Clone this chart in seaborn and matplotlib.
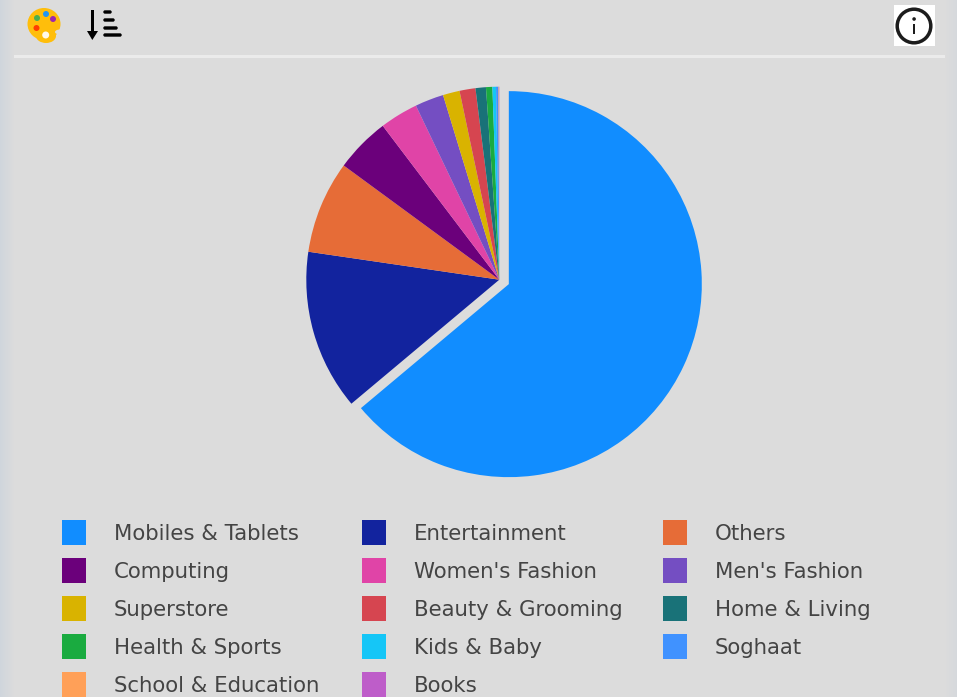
import numpy as np
import matplotlib
matplotlib.use("Agg")
import matplotlib.pyplot as plt
from matplotlib.patches import Patch, Ellipse, Circle, Rectangle, Polygon, FancyBboxPatch
import seaborn as sns

categories = ["Mobiles & Tablets", "Entertainment", "Others", "Computing",
              "Women's Fashion", "Men's Fashion", "Superstore", "Beauty & Grooming",
              "Home & Living", "Health & Sports", "Kids & Baby", "Soghaat",
              "School & Education", "Books"]
values = [63.8, 13.4, 7.75, 4.6, 3.2, 2.4, 1.4, 1.33, 0.87, 0.53, 0.3, 0.2, 0.04, 0.03]
colors = ["#118DFF", "#12239E", "#E66C37", "#6B007B", "#E044A7", "#744EC2", "#D9B300",
          "#D64550", "#197278", "#1AAB40", "#15C6F7", "#4092FF", "#FFA058", "#BE5DC9"]

BG = "#DCDCDC"
sns.set_theme(style="white", rc={"figure.facecolor": BG, "axes.facecolor": BG})
plt.rcParams['font.family'] = ['DejaVu Sans']

W, H = 957, 697
fig = plt.figure(figsize=(W / 100, H / 100), dpi=100)
ax = fig.add_axes([0, 0, 1, 1])

# faint bluish shading at the left and right edges
shade = np.zeros((1, W, 4))
shade[..., :3] = np.array([0.78, 0.82, 0.87])
xs = np.arange(W)
shade[0, :, 3] = np.clip(1 - xs / 14, 0, 1) * 0.55 + np.clip((xs - (W - 12)) / 12, 0, 1) * 0.3
ax.imshow(shade, extent=(0, W, 0, H), aspect="auto", zorder=0)

explode = [10.5] + [0] * (len(values) - 1)
wedges, _ = ax.pie(values, colors=colors, startangle=90, counterclock=False,
                   explode=explode, radius=193, center=(499.3, H - 279.7), frame=True,
                   wedgeprops={"linewidth": 0, "edgecolor": "none"})
for w in wedges:
    w.set_zorder(2)
ax.set_xlim(0, W)
ax.set_ylim(0, H)
ax.set_aspect("auto")
ax.set_xticks([]); ax.set_yticks([])
for s in ax.spines.values():
    s.set_visible(False)

# separator
ax.add_patch(Rectangle((14, H - 57.5), 931, 3, color="#EBEBEB", lw=0, zorder=2))

# palette icon
ax.add_patch(Ellipse((44, H - 24), 33, 32, color="#FFBE0B", lw=0, zorder=2))
ax.add_patch(Ellipse((46, H - 36), 20, 14, color="#FFBE0B", lw=0, zorder=2))
ax.add_patch(Ellipse((60, H - 32), 10, 5, color=BG, lw=0, zorder=3))
for x, y, c in [(37, 18, "#4CAF50"), (46, 14, "#2196F3"), (53, 19, "#9C27B0"), (36.5, 28, "#FF3D00")]:
    ax.add_patch(Circle((x, H - y), 3, color=c, lw=0, zorder=4))
ax.add_patch(Circle((45.7, H - 35), 3.5, color="#FFF9EC", lw=0, zorder=4))

# sort icon
ax.add_patch(Rectangle((91, H - 34), 2.6, 24, color="black", lw=0, zorder=2))
ax.add_patch(Polygon([(87, H - 31), (98, H - 31), (92.3, H - 40)], closed=True, color="black", lw=0, zorder=2))
for y, x1 in [(12, 112), (20, 115), (28, 118), (35, 122)]:
    ax.add_patch(FancyBboxPatch((104, H - y - 1), x1 - 105, 2,
                                boxstyle="round,pad=0,rounding_size=1", color="black", lw=1, zorder=2))

# info icon
ax.add_patch(Rectangle((894, H - 46), 41, 41, color="white", lw=0, zorder=2))
ax.add_patch(Circle((914, H - 26), 16.8, fill=False, ec="#1C1C1C", lw=2.5, zorder=3))
ax.add_patch(Rectangle((912.8, H - 34), 2.6, 10, color="#1C1C1C", lw=0, zorder=3))
ax.add_patch(Circle((914.1, H - 19), 1.8, color="#1C1C1C", lw=0, zorder=3))

# legend: three aligned columns at a fixed pitch
col_items = [[0, 3, 6, 9, 12], [1, 4, 7, 10, 13], [2, 5, 8, 11]]
col_x = [62, 362, 663]
for n, (idx, x0) in enumerate(zip(col_items, col_x)):
    handles = [Patch(facecolor=colors[i], edgecolor="none", label=categories[i]) for i in idx]
    leg = ax.legend(handles=handles, loc="upper left", frameon=False,
                    bbox_to_anchor=(x0 / W, 1 - 520 / H), bbox_transform=fig.transFigure,
                    fontsize=15.35, labelcolor="#444444", borderpad=0, borderaxespad=0,
                    handlelength=1.125, handleheight=1.438, handletextpad=1.3,
                    labelspacing=0.607)
    leg.set_zorder(5)
    if n < len(col_items) - 1:
        ax.add_artist(leg)

fig.savefig("out.png", dpi=100, facecolor=BG)
